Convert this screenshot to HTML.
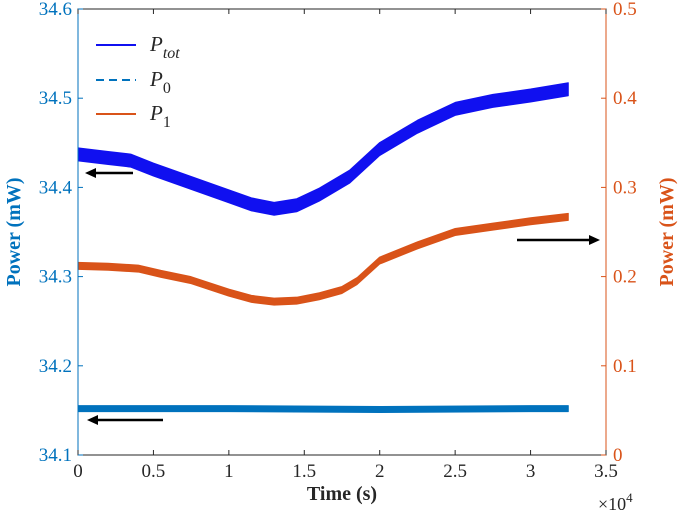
<!DOCTYPE html>
<html><head><meta charset="utf-8"><style>
body{margin:0;background:#fff;}
svg{display:block;font-family:"Liberation Serif",serif;}
</style></head><body>
<svg id="c" width="685" height="519"></svg>
<script>
const timesTot=[0,0.2,0.35,0.5,0.75,1.0,1.15,1.3,1.45,1.6,1.8,2.0,2.25,2.5,2.75,3.0,3.25];
const ptot=[34.437,34.433,34.430,34.420,34.405,34.390,34.381,34.376,34.380,34.392,34.412,34.443,34.468,34.488,34.497,34.503,34.510];
const timesP1=[0,0.2,0.4,0.55,0.75,1.0,1.15,1.3,1.45,1.6,1.75,1.85,2.0,2.25,2.5,2.75,3.0,3.25];
const p1=[0.212,0.211,0.209,0.203,0.196,0.182,0.175,0.172,0.173,0.178,0.185,0.195,0.218,0.235,0.250,0.256,0.262,0.267];
const timesP0=[0,1,2,3,3.25];
const p0=[34.152,34.152,34.151,34.152,34.152];
const xTicks=[0,0.5,1,1.5,2,2.5,3,3.5];
const xLabels=["0","0.5","1","1.5","2","2.5","3","3.5"];
const yLTicks=[34.1,34.2,34.3,34.4,34.5,34.6];
const yRTicks=[0,0.1,0.2,0.3,0.4,0.5];

const L=78,R=606,T=9,B=455;
const X=v=>L+(v/3.5)*(R-L);
const YL=v=>B-(v-34.1)/0.5*(B-T);
const YR=v=>B-v/0.5*(B-T);
const svg=document.getElementById('c');
const NS="http://www.w3.org/2000/svg";
function mk(tag,attrs,parent){const e=document.createElementNS(NS,tag);for(const k in attrs)e.setAttribute(k,attrs[k]);(parent||svg).appendChild(e);return e;}

function band(ts,vs,yf,hw,color,name){
  let top=[],bot=[];
  ts.forEach((t,i)=>{top.push(X(t)+','+(yf(vs[i])-hw));bot.unshift(X(t)+','+(yf(vs[i])+hw));});
  const p=mk('polygon',{points:top.concat(bot).join(' '),fill:color,stroke:color,'stroke-width':1,'stroke-linejoin':'round'});
  
  
}
band(timesTot,ptot,YL,6.5,'#1010f0','series-ptot');
band(timesP1,p1,YR,3.5,'#D95319','series-p1');
band(timesP0,p0,YL,3,'#0072BD','series-p0');

const ax=mk('rect',{x:L,y:T,width:R-L,height:B-T,fill:'none',stroke:'#262626','stroke-width':1});

mk('line',{x1:L,y1:T,x2:L,y2:B,stroke:'#0072BD','stroke-width':1});
mk('line',{x1:R,y1:T,x2:R,y2:B,stroke:'#D95319','stroke-width':1});

xTicks.forEach((v,i)=>{
  mk('line',{x1:X(v),y1:B,x2:X(v),y2:B-5,stroke:'#262626'});
  mk('line',{x1:X(v),y1:T,x2:X(v),y2:T+5,stroke:'#262626'});
  const t=mk('text',{x:X(v),y:B+22,'text-anchor':'middle','font-size':19,fill:'#262626'});t.textContent=xLabels[i];
  
});
yLTicks.forEach(v=>{
  mk('line',{x1:L,y1:YL(v),x2:L+5,y2:YL(v),stroke:'#0072BD'});
  const t=mk('text',{x:L-6,y:YL(v)+6,'text-anchor':'end','font-size':19,fill:'#0072BD'});t.textContent=v.toFixed(1);
  
});
yRTicks.forEach(v=>{
  mk('line',{x1:R,y1:YR(v),x2:R-5,y2:YR(v),stroke:'#D95319'});
  const t=mk('text',{x:R+7,y:YR(v)+6,'font-size':19,fill:'#D95319'});t.textContent=v===0?'0':v.toFixed(1);
  
});
let t=mk('text',{x:(L+R)/2,y:B+45,'text-anchor':'middle','font-size':20,'font-weight':'bold',fill:'#262626'});t.textContent='Time (s)';

t=mk('text',{x:598,y:B+55,'font-size':18,fill:'#262626'});t.innerHTML='×10<tspan dy="-8" font-size="13">4</tspan>';

t=mk('text',{x:0,y:0,transform:`translate(20,${(T+B)/2}) rotate(-90)`,'text-anchor':'middle','font-size':20,'font-weight':'bold',fill:'#0072BD'});t.textContent='Power (mW)';

t=mk('text',{x:0,y:0,transform:`translate(673,${(T+B)/2}) rotate(-90)`,'text-anchor':'middle','font-size':20,'font-weight':'bold',fill:'#D95319'});t.textContent='Power (mW)';


const lg=[['#1010f0','','P','tot',45],['#0072BD','8 5','P','0',80],['#D95319','','P','1',114]];
lg.forEach(l=>{
  const g=mk('g',{});
  const a={x1:96,y1:l[4],x2:136,y2:l[4],stroke:l[0],'stroke-width':2};if(l[1])a['stroke-dasharray']=l[1];
  mk('line',a,g);
  const tx=mk('text',{x:150,y:l[4]+6,'font-size':21,'font-style':'italic',fill:'#262626'},g);
  tx.innerHTML=l[2]+'<tspan dy="7" font-size="16" '+(l[3]==='tot'?'':'font-style="normal"')+'>'+l[3]+'</tspan>';
});

function arrow(x1,y,x2,name){
  const g=mk('g',{});
  mk('line',{x1:x1,y1:y,x2:x2+(x2>x1?-8:8),y2:y,stroke:'#000','stroke-width':2.5},g);
  const d=x2>x1?-1:1;
  mk('polygon',{points:`${x2},${y} ${x2+d*11},${y-5} ${x2+d*11},${y+5}`,fill:'#000'},g);
}
arrow(133,173,85,'arrow-ptot');
arrow(163,420,87,'arrow-p0');
arrow(517,240,600,'arrow-p1');
</script>
</body></html>
